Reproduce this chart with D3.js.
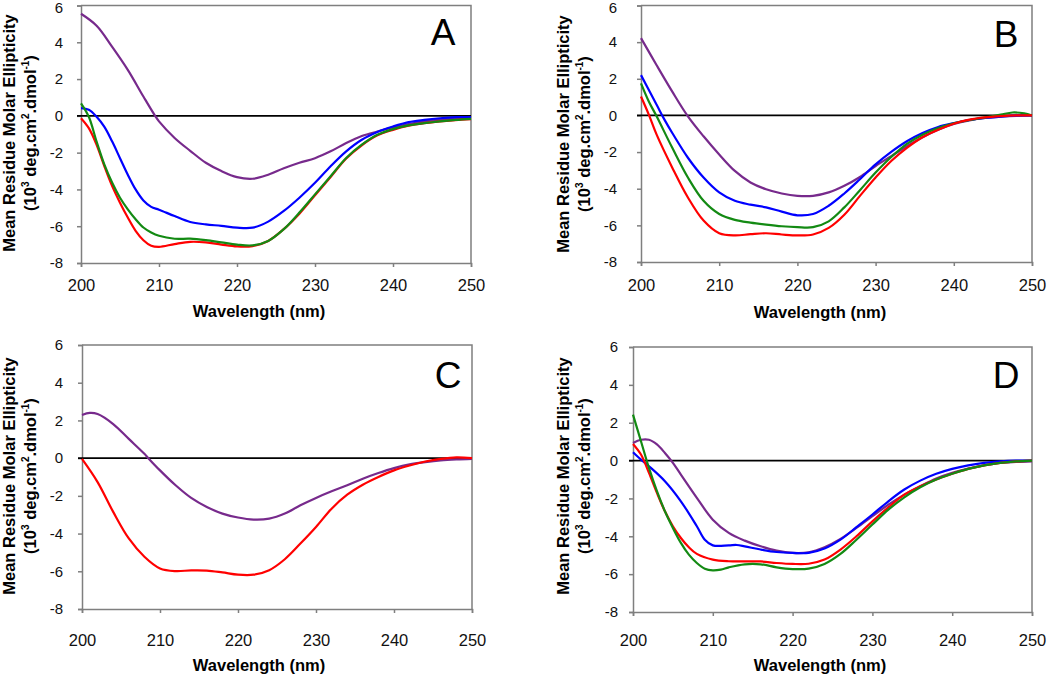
<!DOCTYPE html>
<html>
<head>
<meta charset="utf-8">
<script src="https://cdn.jsdelivr.net/npm/d3@7"></script>
<style>
  body { margin: 0; background: #fff; }
  svg { font-family: "Liberation Sans", Arial, sans-serif; }
</style>
</head>
<body>
<div id="chart"></div>
<script>
const width = 1050, height = 676;

// axis ticks
const xTicks = [200, 210, 220, 230, 240, 250];
const yTicks = [-8, -6, -4, -2, 0, 2, 4, 6];

// series colours
const colors = { purple: "#772a8c", blue: "#0000ff", green: "#138a13", red: "#ff0000" };

// panel A  [wavelength nm, ellipticity 10^3]
const aPurple = [[200,5.55],[202,4.9],[204,3.75],[206,2.5],[208,1.05],[209.5,0],[210,-0.3],[212,-1.2],[214,-1.9],[216,-2.55],[218,-3.0],[220,-3.33],[222,-3.42],[224,-3.2],[226,-2.85],[228,-2.55],[230,-2.3],[232,-1.93],[234,-1.48],[236,-1.1],[238,-0.85],[240,-0.63],[242,-0.45],[244,-0.3],[246,-0.2],[248,-0.15],[250,-0.12]];
const aBlue = [[200,0.42],[201,0.33],[202,-0.05],[203,-0.6],[204,-1.4],[205,-2.3],[206,-3.2],[207,-4.0],[208,-4.6],[209,-4.95],[210,-5.1],[212,-5.45],[214,-5.77],[216,-5.9],[218,-5.98],[220,-6.08],[222,-6.08],[224,-5.75],[226,-5.17],[228,-4.45],[230,-3.64],[232,-2.74],[234,-1.93],[236,-1.3],[238,-0.88],[240,-0.58],[242,-0.34],[244,-0.22],[246,-0.13],[248,-0.07],[250,-0.07]];
const aGreen = [[200,0.68],[201,-0.05],[202,-1.4],[203,-2.65],[204,-3.64],[205,-4.45],[206,-5.08],[207,-5.62],[208,-6.07],[209,-6.34],[210,-6.52],[212,-6.68],[214,-6.68],[216,-6.76],[218,-6.88],[220,-7.0],[222,-7.04],[224,-6.8],[226,-6.16],[228,-5.26],[230,-4.27],[232,-3.28],[234,-2.29],[236,-1.57],[238,-1.03],[240,-0.72],[242,-0.52],[244,-0.4],[246,-0.3],[248,-0.22],[250,-0.16]];
const aRed = [[200,-0.13],[201,-0.67],[202,-1.57],[203,-2.74],[204,-3.82],[205,-4.72],[206,-5.53],[207,-6.25],[208,-6.76],[209,-7.06],[210,-7.12],[212,-6.97],[214,-6.85],[216,-6.88],[218,-7.0],[220,-7.1],[222,-7.08],[224,-6.8],[226,-6.16],[228,-5.32],[230,-4.32],[232,-3.33],[234,-2.32],[236,-1.6],[238,-1.06],[240,-0.76],[242,-0.54],[244,-0.4],[246,-0.3],[248,-0.23],[250,-0.18]];

// panel B
const bPurple = [[200,4.22],[202,2.74],[204,1.3],[206,-0.05],[208,-1.14],[210,-2.13],[212,-3.03],[214,-3.66],[216,-4.03],[218,-4.26],[220,-4.39],[222,-4.39],[224,-4.2],[226,-3.84],[228,-3.36],[230,-2.76],[232,-2.22],[234,-1.68],[236,-1.19],[238,-0.78],[240,-0.47],[242,-0.27],[244,-0.14],[246,-0.07],[248,-0.02],[250,0]];
const bBlue = [[200,2.2],[202,0.58],[203,-0.23],[204,-0.96],[206,-2.31],[208,-3.39],[210,-4.2],[212,-4.66],[214,-4.87],[216,-5.02],[218,-5.25],[220,-5.45],[222,-5.38],[224,-4.93],[226,-4.26],[228,-3.48],[230,-2.67],[232,-1.99],[234,-1.41],[236,-0.96],[238,-0.63],[240,-0.42],[242,-0.25],[244,-0.14],[246,-0.07],[248,0],[250,0]];
const bGreen = [[200,1.75],[201,0.76],[202,-0.05],[204,-1.77],[206,-3.39],[208,-4.66],[210,-5.38],[212,-5.7],[214,-5.85],[216,-5.96],[218,-6.05],[220,-6.1],[222,-6.1],[224,-5.78],[226,-5.02],[228,-4.08],[230,-3.12],[232,-2.27],[234,-1.55],[236,-1.05],[238,-0.69],[240,-0.43],[242,-0.25],[244,-0.11],[246,0.04],[247.5,0.16],[249,0.11],[250,0]];
const bRed = [[200,1.03],[201,0.04],[202,-1.05],[204,-2.85],[206,-4.48],[208,-5.74],[210,-6.43],[212,-6.55],[214,-6.48],[216,-6.43],[218,-6.5],[220,-6.55],[222,-6.5],[224,-6.14],[226,-5.42],[228,-4.39],[230,-3.39],[232,-2.49],[234,-1.77],[236,-1.19],[238,-0.78],[240,-0.45],[242,-0.23],[244,-0.11],[246,-0.04],[248,0],[250,0]];

// panel C
const cPurple = [[200,2.29],[201,2.4],[202,2.34],[204,1.81],[206,1.02],[208,0.23],[208.5,0],[210,-0.65],[212,-1.44],[214,-2.11],[216,-2.59],[218,-2.94],[220,-3.15],[222,-3.26],[224,-3.21],[226,-2.94],[228,-2.5],[230,-2.11],[232,-1.76],[234,-1.44],[236,-1.09],[238,-0.79],[240,-0.53],[242,-0.33],[244,-0.21],[246,-0.12],[248,-0.07],[250,-0.04]];
const cRed = [[200,-0.04],[202,-1.27],[204,-2.85],[206,-4.26],[208,-5.23],[210,-5.85],[212,-5.99],[214,-5.95],[216,-5.96],[218,-6.06],[220,-6.18],[222,-6.18],[224,-5.94],[226,-5.36],[228,-4.53],[230,-3.65],[232,-2.68],[234,-1.94],[236,-1.41],[238,-1.0],[240,-0.65],[242,-0.39],[244,-0.18],[246,-0.04],[248,0.04],[250,0]];

// panel D
const dPurple = [[200,0.93],[201,1.1],[202,1.1],[203,0.85],[204,0.4],[205,-0.12],[206,-0.74],[208,-1.97],[210,-3.12],[212,-3.82],[214,-4.23],[216,-4.53],[218,-4.76],[220,-4.88],[222,-4.85],[224,-4.58],[226,-4.14],[228,-3.56],[230,-2.94],[232,-2.33],[234,-1.8],[236,-1.36],[238,-0.95],[240,-0.65],[242,-0.42],[244,-0.25],[246,-0.12],[248,-0.07],[250,-0.04]];
const dBlue = [[200,0.44],[201,0.05],[202,-0.3],[204,-1.09],[206,-2.15],[208,-3.47],[209,-4.18],[210,-4.48],[212,-4.48],[213,-4.46],[214,-4.53],[216,-4.7],[218,-4.83],[220,-4.88],[222,-4.88],[224,-4.65],[226,-4.18],[228,-3.52],[230,-2.85],[232,-2.15],[234,-1.53],[236,-1.06],[238,-0.7],[240,-0.44],[242,-0.25],[244,-0.12],[246,-0.04],[248,0],[250,0]];
const dGreen = [[200,2.43],[201,1.02],[202,-0.39],[203,-1.62],[204,-2.68],[205,-3.56],[206,-4.35],[207,-4.97],[208,-5.41],[209,-5.71],[210,-5.8],[211,-5.76],[212,-5.64],[214,-5.48],[216,-5.48],[218,-5.64],[220,-5.73],[222,-5.71],[224,-5.46],[226,-4.93],[228,-4.18],[230,-3.38],[232,-2.59],[234,-1.94],[236,-1.41],[238,-1.0],[240,-0.7],[242,-0.44],[244,-0.25],[246,-0.12],[248,-0.04],[250,0]];
const dRed = [[200,0.88],[201,0.32],[202,-0.65],[203,-1.71],[204,-2.68],[205,-3.47],[206,-4.09],[207,-4.58],[208,-4.93],[210,-5.23],[212,-5.32],[214,-5.33],[216,-5.33],[218,-5.41],[220,-5.46],[222,-5.45],[224,-5.23],[226,-4.7],[228,-4.0],[230,-3.21],[232,-2.47],[234,-1.8],[236,-1.36],[238,-1.0],[240,-0.7],[242,-0.44],[244,-0.25],[246,-0.12],[248,-0.04],[250,0]];

// layout of the four panels (pixel boxes)
const panels = [
  { letter: "A", x0: 81, x1: 471, y0: 5.5, y1: 263, letterX: 443, letterY: 45, yTitleX: 9, yTitleY: 133, xTitleX: 259, xTitleY: 317, xLabY: 291, labGap: 18,
    series: [[aPurple, "purple"], [aBlue, "blue"], [aRed, "red"], [aGreen, "green"]] },
  { letter: "B", x0: 641, x1: 1032, y0: 5.5, y1: 262, letterX: 1006, letterY: 47, yTitleX: 563, yTitleY: 134, xTitleX: 820, xTitleY: 318, xLabY: 291, labGap: 24,
    series: [[bPurple, "purple"], [bBlue, "blue"], [bGreen, "green"], [bRed, "red"]] },
  { letter: "C", x0: 82, x1: 472, y0: 345, y1: 609, letterX: 448, letterY: 388, yTitleX: 9, yTitleY: 476, xTitleX: 259, xTitleY: 671, xLabY: 646, labGap: 19,
    series: [[cPurple, "purple"], [cRed, "red"]] },
  { letter: "D", x0: 633, x1: 1032, y0: 347, y1: 612, letterX: 1006, letterY: 388, yTitleX: 563, yTitleY: 476, xTitleX: 820, xTitleY: 671, xLabY: 646, labGap: 15,
    series: [[dPurple, "purple"], [dBlue, "blue"], [dRed, "red"], [dGreen, "green"]] }
];

const svg = d3.select("#chart").append("svg")
  .attr("width", width)
  .attr("height", height);

panels.forEach(p => {
  const x = d3.scaleLinear().domain([200, 250]).range([p.x0, p.x1]);
  const y = d3.scaleLinear().domain([-8, 6]).range([p.y1, p.y0]);
  const g = svg.append("g");

  // top and right border
  g.append("path")
    .attr("d", `M${p.x0},${p.y0}H${p.x1}V${p.y1}`)
    .attr("fill", "none")
    .attr("stroke", "#7f7f7f")
    .attr("stroke-width", 1.5);

  // y axis
  const yAxis = g.append("g")
    .attr("transform", `translate(${p.x0},0)`)
    .call(d3.axisLeft(y).tickValues(yTicks).tickSize(4).tickPadding(p.labGap - 4).tickFormat(d3.format("d")));
  yAxis.select(".domain").attr("stroke", "#7f7f7f").attr("stroke-width", 1.5);
  yAxis.selectAll(".tick line").attr("stroke", "#7f7f7f").attr("stroke-width", 1.5);
  yAxis.selectAll(".tick text")
    .attr("font-size", 15)
    .attr("font-family", "Liberation Sans, Arial, sans-serif")
    .attr("fill", "#111")
    .attr("y", d => (d === 6 && p.y0 < 10) ? 2.5 : 0)  // top label sits a bit low, as in the original
    .text(d => d < 0 ? "-" + Math.abs(d) : d);

  // x axis
  const xAxis = g.append("g")
    .attr("transform", `translate(0,${p.y1})`)
    .call(d3.axisBottom(x).tickValues(xTicks).tickSize(4).tickFormat(d3.format("d")));
  xAxis.select(".domain").attr("stroke", "#7f7f7f").attr("stroke-width", 1.5);
  xAxis.selectAll(".tick line").attr("stroke", "#7f7f7f").attr("stroke-width", 1.5);
  xAxis.selectAll(".tick text")
    .attr("font-size", 16.5)
    .attr("font-family", "Liberation Sans, Arial, sans-serif")
    .attr("fill", "#111")
    .attr("dy", null)
    .attr("y", p.xLabY - p.y1);

  // zero line
  g.append("line")
    .attr("x1", x(200) - 4).attr("x2", x(250))
    .attr("y1", y(0)).attr("y2", y(0))
    .attr("stroke", "#000")
    .attr("stroke-width", 1.8);

  // curves
  const line = d3.line()
    .x(d => x(d[0]))
    .y(d => y(d[1]))
    .curve(d3.curveCatmullRom.alpha(0.5));

  p.series.forEach(([vals, c]) => {
    g.append("path")
      .datum(vals)
      .attr("d", line)
      .attr("fill", "none")
      .attr("stroke", colors[c])
      .attr("stroke-width", 2.2);
  });

  // panel letter
  g.append("text")
    .attr("x", p.letterX).attr("y", p.letterY)
    .attr("text-anchor", "middle")
    .attr("font-size", 37)
    .text(p.letter);

  // x title
  g.append("text")
    .attr("x", p.xTitleX).attr("y", p.xTitleY)
    .attr("text-anchor", "middle")
    .attr("font-size", 16.5)
    .attr("font-weight", "bold")
    .text("Wavelength (nm)");

  // y title, two lines
  const yt = g.append("text")
    .attr("transform", `translate(${p.yTitleX + 6},${p.yTitleY}) rotate(-90)`)
    .attr("text-anchor", "middle")
    .attr("font-size", 16.5)
    .attr("font-weight", "bold");
  yt.append("tspan").attr("x", 0).attr("y", 0).text("Mean Residue Molar Ellipticity");
  const t2 = yt.append("tspan").attr("x", 0).attr("y", 21);
  t2.append("tspan").text("(10");
  t2.append("tspan").attr("font-size", 10).attr("dy", -7).text("3");
  t2.append("tspan").attr("dy", 7).text(" deg.cm");
  t2.append("tspan").attr("font-size", 10).attr("dy", -7).text("2");
  t2.append("tspan").attr("dy", 7).text(".dmol");
  t2.append("tspan").attr("font-size", 10).attr("dy", -7).text("-1");
  t2.append("tspan").attr("dy", 7).text(")");
});
</script>
</body>
</html>
